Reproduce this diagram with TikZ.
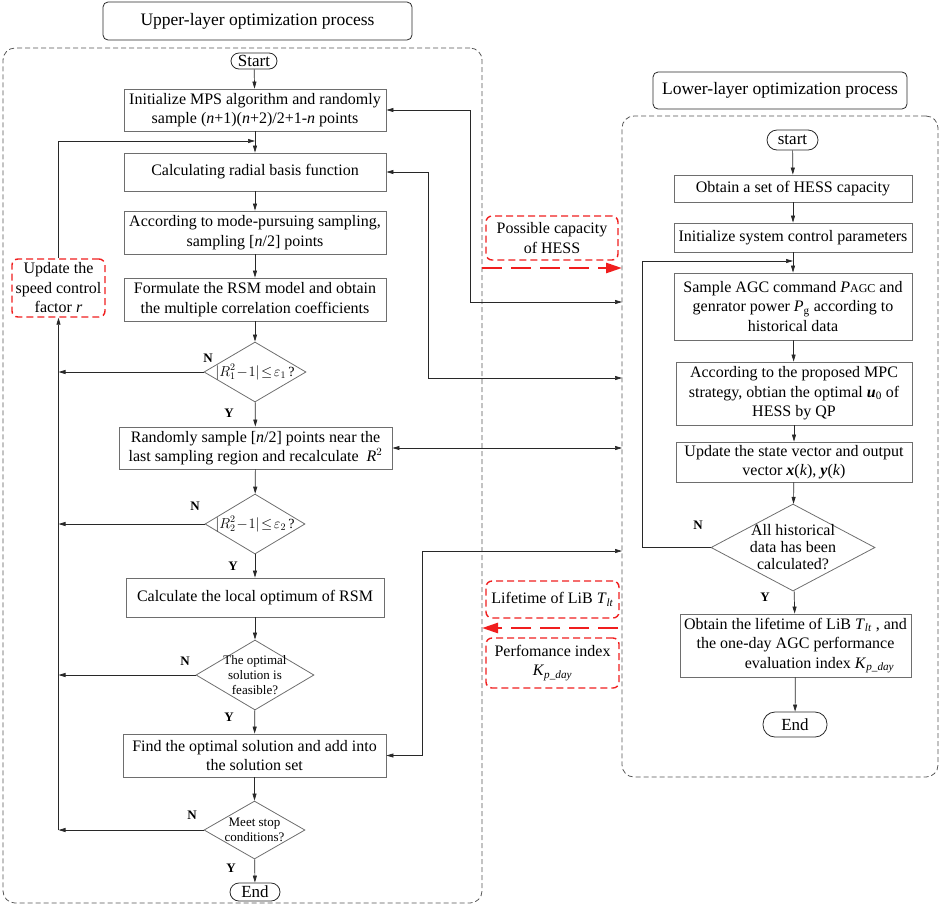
\documentclass[tikz,border=0pt]{standalone}
\usepackage{amsmath}
\usepackage{fontspec}
\setmainfont{Liberation Serif}
\usetikzlibrary{shapes.geometric,arrows.meta,calc}
\definecolor{boxgray}{RGB}{110,110,110}
\definecolor{linegray}{RGB}{40,40,40}
\definecolor{dashgray}{RGB}{85,85,85}
\definecolor{myred}{RGB}{240,30,30}
\begin{document}
\begin{tikzpicture}[x=1pt,y=-1pt,
  box/.style={draw=boxgray, line width=0.8pt, inner sep=0pt, align=center, font=\fontsize{16}{19.5}\selectfont},
  term/.style={draw=linegray, line width=0.8pt, inner sep=0pt, rounded corners=8pt, font=\fontsize{17}{19}\selectfont},
  dia/.style={diamond, draw=boxgray, line width=0.8pt, inner sep=0pt},
  dtext/.style={font=\fontsize{13}{15}\selectfont, align=center},
  ftext/.style={font=\fontsize{14}{14}\selectfont, inner sep=0pt},
  title/.style={draw=linegray, line width=0.8pt, rounded corners=5pt, inner sep=0pt, font=\fontsize{17.5}{20}\selectfont},
  cont/.style={draw=dashgray, line width=0.8pt, dash pattern=on 5pt off 3pt, rounded corners=12pt, inner sep=0pt},
  redbox/.style={draw=myred, line width=1.4pt, dash pattern=on 7pt off 4pt, rounded corners=6pt, inner sep=0pt, align=center, font=\fontsize{16}{19.5}\selectfont},
  arr/.style={-{Triangle[length=7pt,width=4pt]}, line width=0.7pt, draw=linegray},
  dbl/.style={{Triangle[length=7pt,width=4pt]}-{Triangle[length=7pt,width=4pt]}, line width=0.7pt, draw=linegray},
  redarr/.style={-{Triangle[length=16pt,width=10pt]}, line width=2.6pt, draw=myred, dash pattern=on 20pt off 9pt},
  yn/.style={font=\fontsize{13}{13}\selectfont\bfseries, inner sep=0pt}
]
\useasboundingbox (0,0) rectangle (941,906);

% ---------------- Upper layer ----------------
\node[title, minimum width=309, minimum height=38] (t1) at (257.5,21) {Upper-layer optimization process};
\node[cont, minimum width=479, minimum height=855] (c1) at (242.5,475.5) {};

\node[term, minimum width=46, minimum height=16] (s1) at (254,61) {Start};
\node[box, minimum width=262, minimum height=42] (b1) at (255,110) {Initialize MPS algorithm and randomly\\sample (\textit{n}+1)(\textit{n}+2)/2+1-\textit{n} points};
\node[box, minimum width=262, minimum height=38] (b2) at (255,172) {Calculating radial basis function};
\node[box, minimum width=262, minimum height=43] (b3) at (255,232.5) {According to mode-pursuing sampling,\\sampling [\textit{n}/2] points};
\node[box, minimum width=262, minimum height=43] (b4) at (255,299.5) {Formulate the RSM model and obtain\\the multiple correlation coefficients};
\node[dia, minimum width=102, minimum height=60, label={[ftext]center:$\lvert R_1^2\!-\!1\rvert\!\le\!\varepsilon_1$\,?}] (d1) at (255,372) {};
\node[box, minimum width=273, minimum height=42] (b5) at (255.5,448) {Randomly sample [\textit{n}/2] points near the\\last sampling region and recalculate \ \textit{R}$^2$};
\node[dia, minimum width=100, minimum height=60, label={[ftext]center:$\lvert R_2^2\!-\!1\rvert\!\le\!\varepsilon_2$\,?}] (d2) at (255,524) {};
\node[box, minimum width=258, minimum height=39] (b6) at (255,597.5) {Calculate the local optimum of RSM};
\node[dia, minimum width=118, minimum height=70, label={[dtext]center:The optimal\\solution is\\feasible?}] (d3) at (255,675) {};
\node[box, minimum width=263, minimum height=43] (b7) at (254.5,755.5) {Find the optimal solution and add into\\the solution set};
\node[dia, minimum width=101, minimum height=58, label={[dtext]center:Meet stop\\conditions?}] (d4) at (254.5,830) {};
\node[term, minimum width=50, minimum height=18, rounded corners=9pt] (e1) at (255,892) {End};

\node[redbox, minimum width=93, minimum height=58] (upd) at (58.5,288) {Update the\\speed control\\factor \textit{r}};

\node[yn] (n1) at (208,358) {N};
\node[yn] (y1) at (229,413) {Y};
\node[yn] (n2) at (195,506) {N};
\node[yn] (y2) at (233,566) {Y};
\node[yn] (n3) at (185,661) {N};
\node[yn] (y3) at (229,717) {Y};
\node[yn] (n4) at (192,815) {N};
\node[yn] (y4) at (231,868) {Y};

\draw[arr] (s1) -- (b1);
\draw[arr] (b1) -- (b2);
\draw[arr] (b2) -- (b3);
\draw[arr] (b3) -- (b4);
\draw[arr] (b4) -- (d1);
\draw[arr] (d1) -- (b5);
\draw[arr] (b5) -- (d2);
\draw[arr] (d2) -- (b6);
\draw[arr] (b6) -- (d3);
\draw[arr] (d3) -- (b7);
\draw[arr] (b7) -- (d4);
\draw[arr] (d4) -- (e1);

\coordinate (m1) at (255,141);
\draw[arr] (upd.north) |- (m1);
\draw[arr] (d1.west) -- (d1.west -| upd.south);
\draw[arr] (d2.west) -- (d2.west -| upd.south);
\draw[arr] (d3.west) -- (d3.west -| upd.south);
\draw[arr] (d4.west) -- (d4.west -| upd.south);
\draw[arr] (d4.west -| upd.south) -- (upd.south);

% ---------------- Lower layer ----------------
\node[title, minimum width=254, minimum height=37] (t2) at (780,90.5) {Lower-layer optimization process};
\node[cont, minimum width=316, minimum height=661] (c2) at (780,446.5) {};

\node[term, minimum width=51, minimum height=20, rounded corners=10pt] (s2) at (792.5,140) {start};
\node[box, minimum width=238, minimum height=27] (l1) at (793,188.5) {Obtain a set of HESS capacity};
\node[box, minimum width=238, minimum height=29] (l2) at (793,237.5) {Initialize system control parameters};
\node[box, minimum width=238, minimum height=67] (l3) at (793,306.5) {Sample AGC command \textit{P}{\fontsize{12}{12}\selectfont AGC} and\\genrator power \textit{P}\textsubscript{g} according to\\historical data};
\node[box, minimum width=236, minimum height=63] (l4) at (794,393.5) {According to the proposed MPC\\strategy, obtian the optimal \textbf{\textit{u}}\textsubscript{0} of\\HESS by QP};
\node[box, minimum width=236, minimum height=40] (l5) at (794,462) {Update the state vector and output\\vector \textbf{\textit{x}}(\textit{k}), \textbf{\textit{y}}(\textit{k})};
\node[dia, minimum width=164, minimum height=87, label={[font=\fontsize{16}{17}\selectfont, align=center]center:All historical\\data has been\\calculated?}] (dl) at (793,547.5) {};
\node[box, minimum width=231, minimum height=63] (l6) at (795.5,645.5) {Obtain the lifetime of LiB \textit{T}\textsubscript{\textit{lt}} , and\\the one-day AGC performance\\\hspace*{3em}evaluation index \textit{K}\textsubscript{\textit{p\_day}}};
\node[term, minimum width=64, minimum height=25, rounded corners=12pt] (e2) at (795,724.5) {End};

\node[yn] (n5) at (698,525) {N};
\node[yn] (y5) at (765,597) {Y};

\draw[arr] (s2) -- (l1);
\draw[arr] (l1) -- (l2);
\draw[arr] (l2) -- (l3);
\draw[arr] (l3) -- (l4);
\draw[arr] (l4) -- (l5);
\draw[arr] (l5) -- (dl);
\draw[arr] (dl) -- (l6);
\draw[arr] (l6) -- (e2);
\coordinate (m2) at (793,261);
\draw[arr] (dl.west) -| (642,261) -- (m2);

% ---------------- Exchange between layers ----------------
\node[redbox, minimum width=132, minimum height=44] (pc) at (552,238) {Possible capacity\\of HESS};
\node[redbox, minimum width=133, minimum height=37] (lt) at (552.5,599.5) {Lifetime of LiB \textit{T}\textsubscript{\textit{lt}}};
\node[redbox, minimum width=133, minimum height=50] (pi) at (552.5,663) {Perfomance index\\\textit{K}\textsubscript{\textit{p\_day}}};

\coordinate (r1) at (622,302);
\coordinate (r2) at (622,378);
\coordinate (r3) at (622,448);
\coordinate (r4) at (622,551);
\draw[dbl] (b1.east) -| (470,302) -- (r1);
\draw[dbl] (b2.east) -| (428,378) -- (r2);
\draw[dbl] (b5.east) -- (r3);
\draw[dbl] (b7.east) -| (422,551) -- (r4);

\coordinate (ra) at (482,268);
\coordinate (rb) at (622,268);
\coordinate (rc) at (618,628);
\coordinate (rd) at (482,628);
\draw[redarr] (ra) -- (rb);
\draw[redarr] (rc) -- (rd);
\end{tikzpicture}
\end{document}
